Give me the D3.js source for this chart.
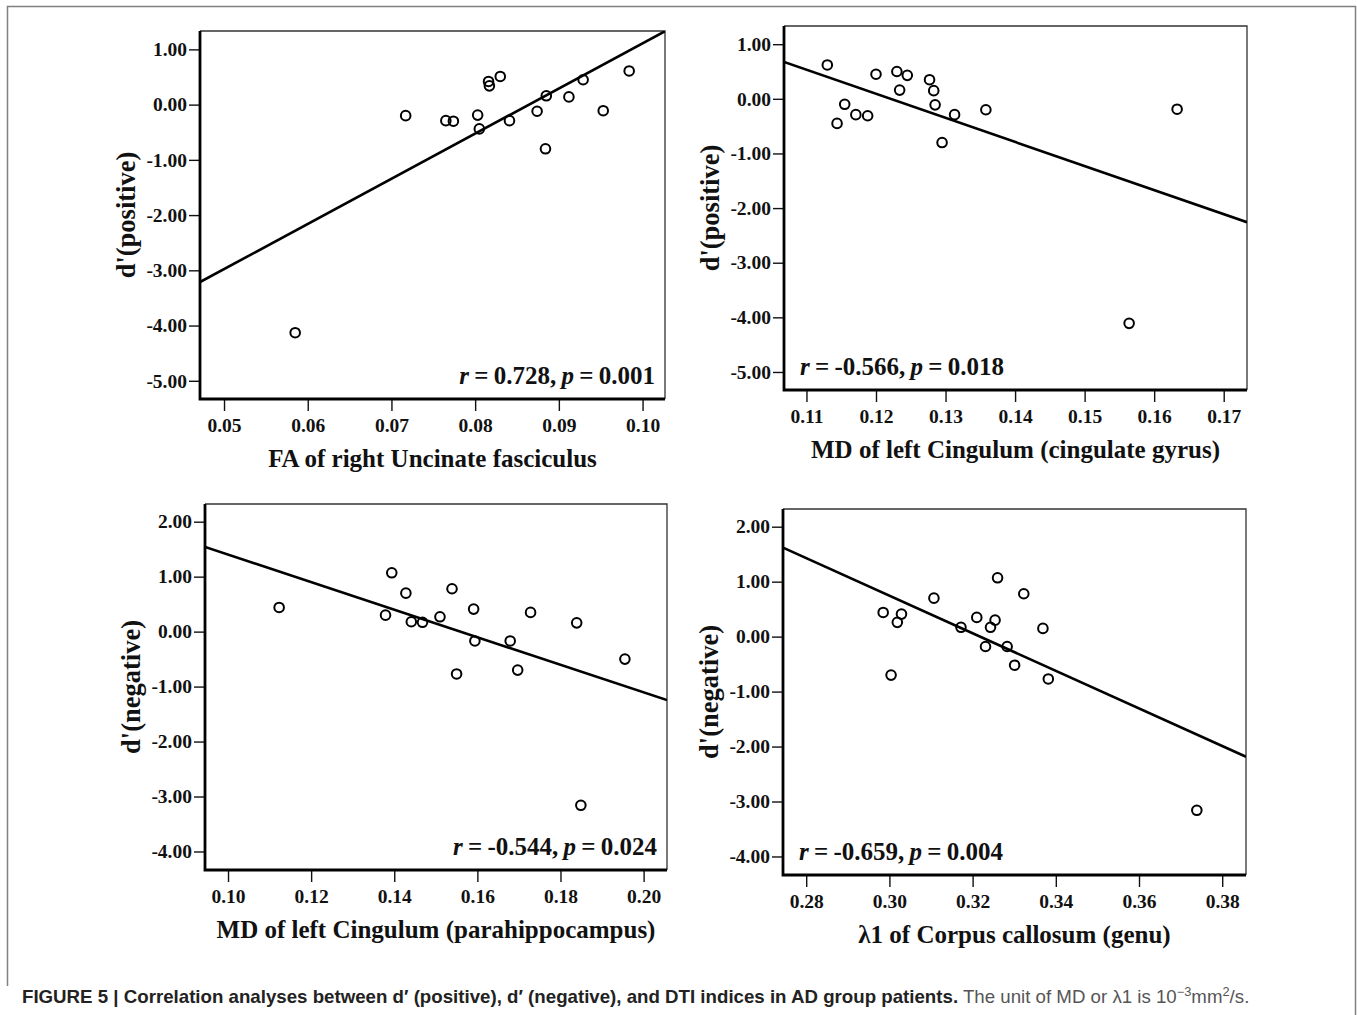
<!DOCTYPE html>
<html>
<head>
<meta charset="utf-8">
<script src="https://cdn.jsdelivr.net/npm/d3@7"></script>
<style>
  html, body { margin: 0; padding: 0; background: #fff; }
  svg { display: block; }
  .tick text { font-family: "Liberation Serif", "Times New Roman", serif; font-weight: bold; fill: #111; }
</style>
</head>
<body>
<svg id="fig" width="1357" height="1015"></svg>
<script>
// ---- data ----
const faRUF = [0.0717, 0.0765, 0.0774, 0.0803, 0.0805, 0.0816, 0.0817, 0.0830, 0.0841, 0.0874, 0.0885, 0.0884, 0.0912, 0.0929, 0.0953, 0.0984, 0.0585];
const dposRUF = [-0.20, -0.29, -0.30, -0.19, -0.44, 0.42, 0.34, 0.51, -0.29, -0.12, 0.16, -0.80, 0.14, 0.45, -0.11, 0.61, -4.13];

const mdCG = [0.1130, 0.1155, 0.1144, 0.1171, 0.1188, 0.1200, 0.1230, 0.1234, 0.1245, 0.1277, 0.1283, 0.1285, 0.1295, 0.1313, 0.1358, 0.1564, 0.1633];
const dposCG = [0.62, -0.10, -0.45, -0.29, -0.31, 0.45, 0.50, 0.16, 0.43, 0.35, 0.15, -0.11, -0.80, -0.29, -0.20, -4.11, -0.19];

const mdPH = [0.1123, 0.1379, 0.1394, 0.1428, 0.1441, 0.1468, 0.1510, 0.1539, 0.1550, 0.1591, 0.1594, 0.1679, 0.1697, 0.1728, 0.1839, 0.1849, 0.1955];
const dnegPH = [0.44, 0.30, 1.07, 0.70, 0.18, 0.17, 0.27, 0.78, -0.77, 0.41, -0.17, -0.17, -0.70, 0.35, 0.16, -3.16, -0.50];

const l1Genu = [0.2985, 0.3019, 0.3029, 0.3004, 0.3107, 0.3172, 0.3210, 0.3231, 0.3243, 0.3254, 0.3260, 0.3283, 0.3301, 0.3323, 0.3369, 0.3382, 0.3739];
const dnegGenu = [0.44, 0.26, 0.41, -0.70, 0.70, 0.17, 0.35, -0.18, 0.17, 0.30, 1.07, -0.18, -0.52, 0.78, 0.15, -0.77, -3.16];

const xTicksRUF = [0.05, 0.06, 0.07, 0.08, 0.09, 0.10];
const xTicksCG = [0.11, 0.12, 0.13, 0.14, 0.15, 0.16, 0.17];
const xTicksPH = [0.10, 0.12, 0.14, 0.16, 0.18, 0.20];
const xTicksGenu = [0.28, 0.30, 0.32, 0.34, 0.36, 0.38];
const yTicksPos = [1, 0, -1, -2, -3, -4, -5];
const yTicksNeg = [2, 1, 0, -1, -2, -3, -4];

const xDomainRUF = [0.04713, 0.10268];
const xDomainCG = [0.10677, 0.17335];
const xDomainPH = [0.09446, 0.20563];
const xDomainGenu = [0.27442, 0.38572];
const yDomainPos = [-5.33, 1.333];
const yDomainNeg = [-4.337, 2.322];

const xTitles = ['FA of right Uncinate fasciculus', 'MD of left Cingulum (cingulate gyrus)',
                 'MD of left Cingulum (parahippocampus)', 'λ1 of Corpus callosum (genu)'];
const yTitles = ["d'(positive)", "d'(positive)", "d'(negative)", "d'(negative)"];
const stats = [['0.728', '0.001'], ['-0.566', '0.018'], ['-0.544', '0.024'], ['-0.659', '0.004']];

const serif = '"Liberation Serif", "Times New Roman", serif';
const svg = d3.select('#fig');

// outer figure frame
svg.append('path')
    .attr('d', 'M7.5,986 V6.5 H1355.5 V1015')
    .attr('fill', 'none')
    .attr('stroke', '#808080')
    .attr('stroke-width', 1.5);

function fit(xs, ys) {
    let mx = d3.mean(xs), my = d3.mean(ys);
    let sxy = d3.sum(xs, (x, i) => (x - mx) * (ys[i] - my));
    let sxx = d3.sum(xs, x => (x - mx) * (x - mx));
    let b = sxy / sxx;
    return { a: my - b * mx, b };
}

const panels = [
    { xs: faRUF, ys: dposRUF, xTicks: xTicksRUF, yTicks: yTicksPos, xDom: xDomainRUF, yDom: yDomainPos,
      box: { l: 200, r: 665, t: 31, b: 399 }, statRight: true },
    { xs: mdCG, ys: dposCG, xTicks: xTicksCG, yTicks: yTicksPos, xDom: xDomainCG, yDom: yDomainPos,
      box: { l: 784, r: 1247, t: 26, b: 390 }, statRight: false },
    { xs: mdPH, ys: dnegPH, xTicks: xTicksPH, yTicks: yTicksNeg, xDom: xDomainPH, yDom: yDomainNeg,
      box: { l: 205, r: 667, t: 504, b: 870 }, statRight: true },
    { xs: l1Genu, ys: dnegGenu, xTicks: xTicksGenu, yTicks: yTicksNeg, xDom: xDomainGenu, yDom: yDomainNeg,
      box: { l: 783, r: 1246, t: 509, b: 875 }, statRight: false },
];

panels.forEach((p, k) => {
    let { l, r, t, b } = p.box;
    let x = d3.scaleLinear().domain(p.xDom).range([l, r]);
    let y = d3.scaleLinear().domain(p.yDom).range([b, t]);
    let g = svg.append('g').attr('class', 'panel');

    g.append('clipPath').attr('id', 'clip' + k)
      .append('rect').attr('x', l).attr('y', t).attr('width', r - l).attr('height', b - t);

    // thin top/right frame
    g.append('path')
        .attr('d', `M${l},${t} H${r} V${b}`)
        .attr('fill', 'none')
        .attr('stroke', '#333')
        .attr('stroke-width', 1.3);

    let xa = g.append('g')
        .attr('transform', `translate(0,${b})`)
        .call(d3.axisBottom(x).tickValues(p.xTicks).tickFormat(d => d.toFixed(2)).tickSize(12).tickPadding(7));
    let ya = g.append('g')
        .attr('transform', `translate(${l},0)`)
        .call(d3.axisLeft(y).tickValues(p.yTicks).tickFormat(d => d.toFixed(2)).tickSize(11).tickPadding(2));
    [xa, ya].forEach(a => {
        a.select('.domain').remove();
        a.selectAll('line').attr('stroke', '#111').attr('stroke-width', 1.4);
        a.selectAll('text').style('font-size', '19.5px');
    });

    // thick left/bottom axis lines
    g.append('path')
        .attr('d', `M${l},${t} V${b} H${r}`)
        .attr('fill', 'none')
        .attr('stroke', '#000')
        .attr('stroke-width', 2.8);

    // regression line
    let f = fit(p.xs, p.ys);
    g.append('line')
        .attr('clip-path', `url(#clip${k})`)
        .attr('x1', x(p.xDom[0])).attr('y1', y(f.a + f.b * p.xDom[0]))
        .attr('x2', x(p.xDom[1])).attr('y2', y(f.a + f.b * p.xDom[1]))
        .attr('stroke', '#000')
        .attr('stroke-width', 2.6);

    g.selectAll('circle.pt')
        .data(p.xs.map((d, i) => [d, p.ys[i]]))
        .enter()
        .append('circle')
        .classed('pt', true)
        .attr('cx', d => x(d[0]))
        .attr('cy', d => y(d[1]))
        .attr('r', 4.8)
        .attr('fill', 'none')
        .attr('stroke', '#000')
        .attr('stroke-width', 2);

    // annotation
    let st = g.append('text')
        .attr('x', p.statRight ? r - 10 : l + 16)
        .attr('y', b - 15)
        .attr('text-anchor', p.statRight ? 'end' : 'start')
        .style('font-family', serif)
        .style('font-weight', 'bold')
        .style('font-size', '25px')
        .style('word-spacing', '-1px')
        .attr('fill', '#111');
    st.append('tspan').style('font-style', 'italic').text('r');
    st.append('tspan').text(` = ${stats[k][0]}, `);
    st.append('tspan').style('font-style', 'italic').text('p');
    st.append('tspan').text(` = ${stats[k][1]}`);

    // axis titles
    g.append('text')
        .attr('x', (l + r) / 2)
        .attr('y', b + 68)
        .attr('text-anchor', 'middle')
        .style('font-family', serif)
        .style('font-weight', 'bold')
        .style('font-size', '25px')
        .attr('fill', '#111')
        .text(xTitles[k]);

    g.append('text')
        .attr('transform', `translate(${l - 65},${(t + b) / 2}) rotate(-90)`)
        .attr('text-anchor', 'middle')
        .style('font-family', serif)
        .style('font-weight', 'bold')
        .style('font-size', '26.5px')
        .attr('fill', '#111')
        .text(yTitles[k]);
});

// caption
let cap = svg.append('text')
    .attr('x', 22)
    .attr('y', 1003)
    .style('font-family', '"Liberation Sans", Arial, sans-serif')
    .style('font-size', '17.5px');
cap.append('tspan')
    .style('font-weight', 'bold')
    .attr('fill', '#222')
    .text('FIGURE 5 | Correlation analyses between d′ (positive), d′ (negative), and DTI indices in AD group patients.');
cap.append('tspan').attr('fill', '#555').text(' The unit of MD or λ1 is 10');
cap.append('tspan').attr('fill', '#555').attr('dy', -7).style('font-size', '12px').text('−3');
cap.append('tspan').attr('fill', '#555').attr('dy', 7).text('mm');
cap.append('tspan').attr('fill', '#555').attr('dy', -7).style('font-size', '12px').text('2');
cap.append('tspan').attr('fill', '#555').attr('dy', 7).text('/s.');

// squeeze the caption to the narrow face used in the journal layout
let w = cap.node().getComputedTextLength();
let sx = 1228 / w;
cap.attr('transform', `translate(${22 - 22 * sx},0) scale(${sx},1)`);
</script>
</body>
</html>
